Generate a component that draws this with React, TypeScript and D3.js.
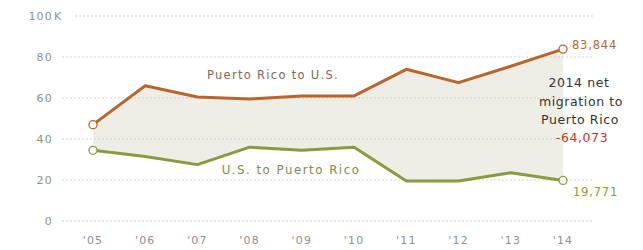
import React from "react";
import * as d3 from "d3";

// data (thousands)
const years = ["'05", "'06", "'07", "'08", "'09", "'10", "'11", "'12", "'13", "'14"];
const prToUS = [47, 66, 60.5, 59.5, 61, 61, 74, 67.5, 75.5, 83.844];
const usToPR = [34.5, 31.5, 27.5, 36, 34.5, 36, 19.5, 19.5, 23.5, 19.771];
const yTicks = [0, 20, 40, 60, 80, 100];

const orange = "#b9652c";
const green = "#8a9a3e";

export default function App() {
  const x = d3.scalePoint<string>().domain(years).range([93, 563]);
  const y = d3.scaleLinear().domain([0, 100]).range([221, 16]);

  const rows = years.map((yr, i) => ({ yr, a: prToUS[i], b: usToPR[i] }));

  const area = d3
    .area<any>()
    .x((d) => x(d.yr)!)
    .y0((d) => y(d.b))
    .y1((d) => y(d.a));
  const lineA = d3
    .line<any>()
    .x((d) => x(d.yr)!)
    .y((d) => y(d.a));
  const lineB = d3
    .line<any>()
    .x((d) => x(d.yr)!)
    .y((d) => y(d.b));

  const last = rows[rows.length - 1];
  const first = rows[0];
  const font = "'DejaVu Sans', sans-serif";
  const fmt = d3.format(",");

  return (
    <div style={{ position: "absolute", left: 0, top: 0 }}>
      <svg width={643} height={250} style={{ display: "block", fontFamily: font }}>
        <rect width={643} height={250} fill="#fff" />
        <path d={area(rows)!} fill="#efeee6" />
        {yTicks.map((t) => (
          <g key={t}>
            <line
              x1={t === 100 ? 75 : 62}
              x2={594}
              y1={y(t)}
              y2={y(t)}
              stroke="#c8c8c8"
              strokeWidth={0.8}
              strokeDasharray="2,2"
            />
            <text x={53} y={y(t) + 4} fontSize={11} letterSpacing={1.2} fill="#8f8f8f" textAnchor="end">
              {t}
            </text>
            {t === 100 && (
              <text x={54} y={y(t) + 4} fontSize={11} fill="#8f8f8f">
                K
              </text>
            )}
          </g>
        ))}
        {years.map((yr) => (
          <text key={yr} x={x(yr)} y={244} fontSize={11} letterSpacing={1.2} fill="#8f8f8f" textAnchor="middle">
            {yr}
          </text>
        ))}
        <path d={lineA(rows)!} fill="none" stroke={orange} strokeWidth={3} strokeLinejoin="round" />
        <path d={lineB(rows)!} fill="none" stroke={green} strokeWidth={3} strokeLinejoin="round" />
        {[first, last].map((d, i) => (
          <g key={i}>
            <circle cx={x(d.yr)} cy={y(d.a)} r={4} fill="#fff" stroke={orange} strokeWidth={1.3} />
            <circle cx={x(d.yr)} cy={y(d.b)} r={4} fill="#fff" stroke={green} strokeWidth={1.3} />
          </g>
        ))}
        <text x={273} y={79} fontSize={11.5} letterSpacing={1.3} fill="#7a6a58" textAnchor="middle">
          Puerto Rico to U.S.
        </text>
        <text x={291} y={174} fontSize={11.8} letterSpacing={1.5} fill="#7d8a50" textAnchor="middle">
          U.S. to Puerto Rico
        </text>
        <text x={572} y={49} fontSize={11.5} letterSpacing={0.8} fill={orange}>
          {fmt(last.a * 1000)}
        </text>
        <text x={573} y={196} fontSize={11.5} letterSpacing={0.8} fill={green}>
          {fmt(Math.round(last.b * 1000))}
        </text>
        <g fontSize={12.5} fill="#333" textAnchor="middle" letterSpacing={0.6}>
          <text x={579} y={87}>2014 net</text>
          <text x={581} y={106}>migration to</text>
          <text x={580} y={124}>Puerto Rico</text>
          <text x={582} y={142} fill="#c0392b">
            {"-" + fmt(Math.round((last.a - last.b) * 1000))}
          </text>
        </g>
      </svg>
    </div>
  );
}
